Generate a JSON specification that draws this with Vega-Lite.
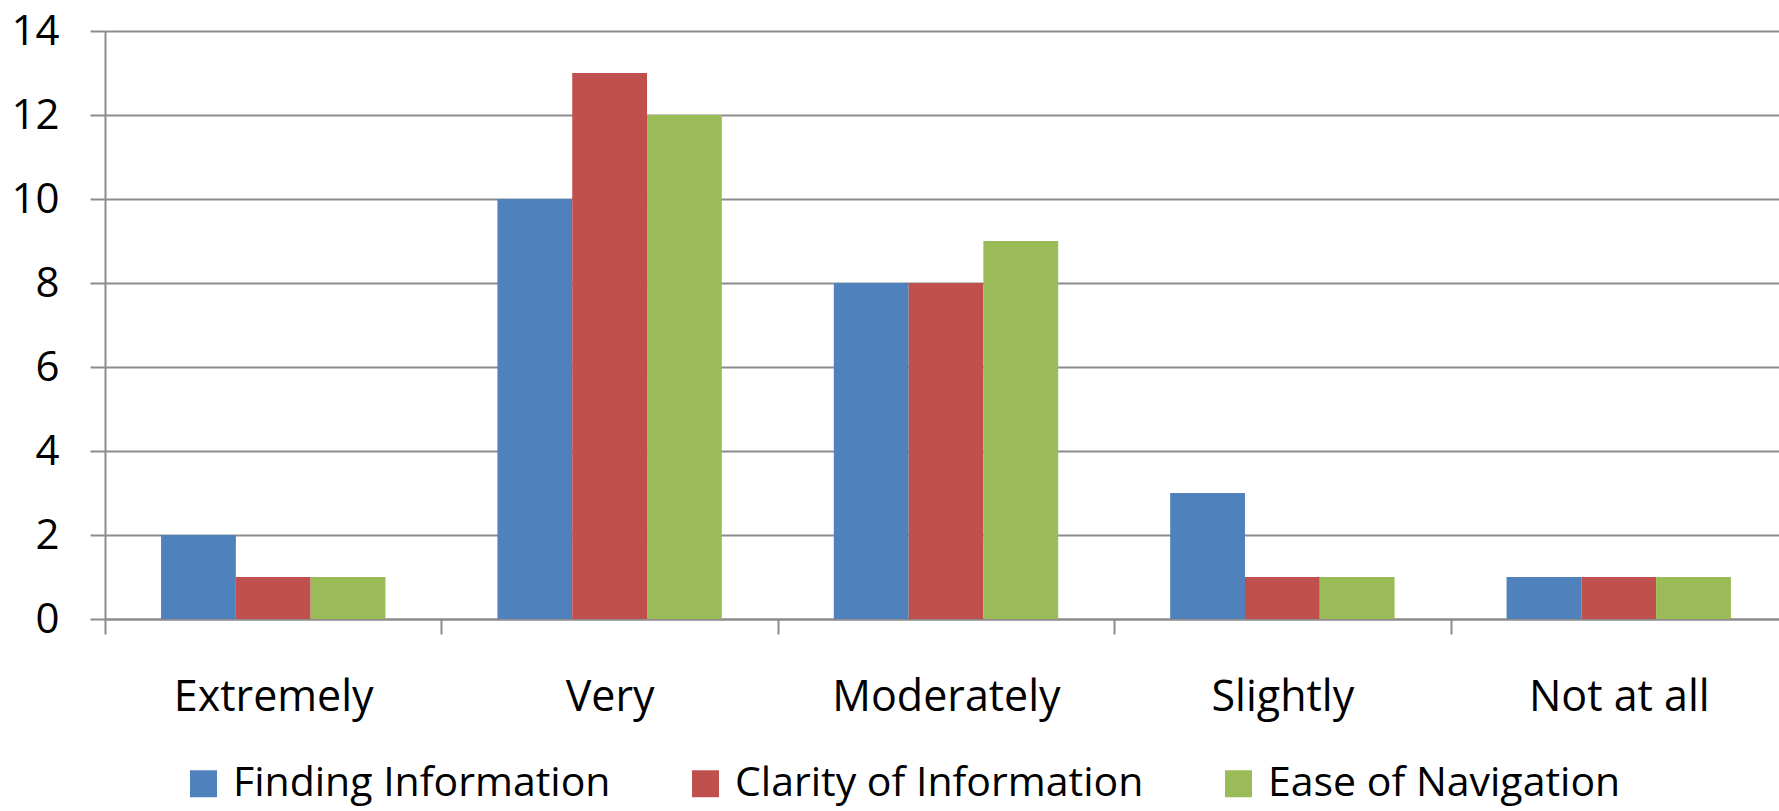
{
  "$schema": "https://vega.github.io/schema/vega-lite/v6.json",
  "autosize": "none",
  "padding": {"left": 105, "top": 31, "right": 0, "bottom": 192},
  "width": 1674,
  "height": 588,
  "background": "white",
  "data": {
    "values": [
      {"category": "Extremely", "series": "Finding Information", "value": 2},
      {"category": "Extremely", "series": "Clarity of Information", "value": 1},
      {"category": "Extremely", "series": "Ease of Navigation", "value": 1},
      {"category": "Very", "series": "Finding Information", "value": 10},
      {"category": "Very", "series": "Clarity of Information", "value": 13},
      {"category": "Very", "series": "Ease of Navigation", "value": 12},
      {"category": "Moderately", "series": "Finding Information", "value": 8},
      {"category": "Moderately", "series": "Clarity of Information", "value": 8},
      {"category": "Moderately", "series": "Ease of Navigation", "value": 9},
      {"category": "Slightly", "series": "Finding Information", "value": 3},
      {"category": "Slightly", "series": "Clarity of Information", "value": 1},
      {"category": "Slightly", "series": "Ease of Navigation", "value": 1},
      {"category": "Not at all", "series": "Finding Information", "value": 1},
      {"category": "Not at all", "series": "Clarity of Information", "value": 1},
      {"category": "Not at all", "series": "Ease of Navigation", "value": 1}
    ]
  },
  "mark": {"type": "bar"},
  "encoding": {
    "x": {
      "field": "category",
      "type": "nominal",
      "sort": ["Extremely", "Very", "Moderately", "Slightly", "Not at all"],
      "scale": {"range": [0, 1682], "paddingInner": 0.333, "paddingOuter": 0.1667},
      "axis": {
        "title": null,
        "labelAngle": 0,
        "labelFont": "Open Sans",
        "labelFontSize": 43,
        "labelColor": "#000000",
        "labelPadding": 42,
        "labelLimit": 1000,
        "tickOffset": -168.2,
        "labelOffset": 168.2,
        "tickSize": 15,
        "tickColor": "#8C8C8C",
        "tickWidth": 2,
        "domainColor": "#8C8C8C",
        "domainWidth": 2,
        "grid": false
      }
    },
    "xOffset": {
      "field": "series",
      "type": "nominal",
      "sort": ["Finding Information", "Clarity of Information", "Ease of Navigation"],
      "scale": {"paddingInner": 0, "paddingOuter": 0}
    },
    "y": {
      "field": "value",
      "type": "quantitative",
      "scale": {"domain": [0, 14], "nice": false},
      "axis": {
        "title": null,
        "values": [0, 2, 4, 6, 8, 10, 12, 14],
        "labelFont": "Open Sans",
        "labelFontSize": 42,
        "labelColor": "#000000",
        "labelPadding": 31,
        "tickSize": 15,
        "tickColor": "#8C8C8C",
        "tickWidth": 2,
        "domainColor": "#8C8C8C",
        "domainWidth": 2,
        "grid": true,
        "gridColor": "#8C8C8C",
        "gridWidth": 2
      }
    },
    "color": {
      "field": "series",
      "type": "nominal",
      "sort": ["Finding Information", "Clarity of Information", "Ease of Navigation"],
      "scale": {"range": ["#4F81BD", "#C0504D", "#9BBB59"]},
      "legend": {
        "title": null,
        "orient": "none",
        "direction": "horizontal",
        "legendX": 78,
        "legendY": 732,
        "padding": 0,
        "symbolType": "square",
        "symbolSize": 729,
        "symbolStrokeWidth": 0,
        "symbolOpacity": 1,
        "labelFont": "Open Sans",
        "labelFontSize": 41,
        "labelColor": "#000000",
        "labelOffset": 9,
        "labelLimit": 1000,
        "columnPadding": 74
      }
    }
  },
  "config": {"view": {"stroke": null}}
}
